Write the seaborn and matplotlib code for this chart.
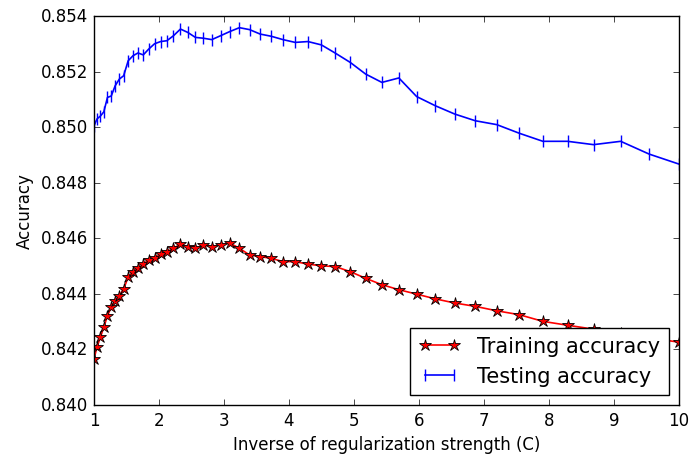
import numpy as np
import pandas as pd
import matplotlib
matplotlib.use("Agg")
import matplotlib.pyplot as plt
from matplotlib.ticker import FormatStrFormatter
import seaborn as sns

plt.style.use("classic")

# Inverse of regularization strength values (log-spaced from 1 to 10)
c_values = [1.000, 1.048, 1.099, 1.151, 1.207, 1.265, 1.326, 1.390, 1.456, 1.526,
            1.600, 1.677, 1.758, 1.842, 1.931, 2.024, 2.121, 2.223, 2.330, 2.442,
            2.560, 2.683, 2.812, 2.947, 3.089, 3.237, 3.393, 3.556, 3.728, 3.907,
            4.095, 4.292, 4.498, 4.715, 4.942, 5.179, 5.429, 5.690, 5.964, 6.251,
            6.551, 6.866, 7.197, 7.543, 7.906, 8.286, 8.685, 9.103, 9.541, 10.000]

train_acc = [0.84166, 0.84210, 0.84244, 0.84280, 0.84321, 0.84352, 0.84375, 0.84393, 0.84418, 0.84460,
             0.84480, 0.84492, 0.84507, 0.84523, 0.84529, 0.84543, 0.84552, 0.84564, 0.84579, 0.84570,
             0.84564, 0.84576, 0.84570, 0.84576, 0.84583, 0.84564, 0.84540, 0.84534, 0.84528, 0.84516,
             0.84516, 0.84507, 0.84501, 0.84498, 0.84480, 0.84456, 0.84433, 0.84415, 0.84399, 0.84382,
             0.84367, 0.84355, 0.84339, 0.84325, 0.84301, 0.84287, 0.84273, 0.84258, 0.84242, 0.84226]

test_acc = [0.85005, 0.85030, 0.85040, 0.85055, 0.85107, 0.85112, 0.85149, 0.85173, 0.85185, 0.85239,
            0.85257, 0.85267, 0.85260, 0.85281, 0.85300, 0.85308, 0.85311, 0.85329, 0.85353, 0.85341,
            0.85323, 0.85320, 0.85315, 0.85329, 0.85344, 0.85358, 0.85351, 0.85335, 0.85327, 0.85315,
            0.85305, 0.85308, 0.85296, 0.85266, 0.85233, 0.85191, 0.85161, 0.85177, 0.85110, 0.85077,
            0.85047, 0.85023, 0.85009, 0.84978, 0.84949, 0.84949, 0.84937, 0.84949, 0.84903, 0.84867]

df = pd.DataFrame({"C": c_values, "train": train_acc, "test": test_acc})

fig = plt.figure(figsize=(6.89, 4.60), dpi=100, facecolor="white")
ax = fig.add_axes([94 / 689, 1 - 406 / 460, (679 - 94) / 689, (406 - 17) / 460])

sns.lineplot(data=df, x="C", y="train", ax=ax, color="red", marker="*",
             markersize=9, markeredgecolor="black", markeredgewidth=0.6,
             linewidth=1.2, label="Training accuracy")
sns.lineplot(data=df, x="C", y="test", ax=ax, color="blue", marker="|",
             markersize=9, markeredgecolor="blue", markeredgewidth=1.0,
             linewidth=1.2, label="Testing accuracy")

ax.set_xlim(1, 10)
ax.set_ylim(0.840, 0.854)
ax.set_xticks(range(1, 11))
ax.set_yticks(np.arange(0.840, 0.8541, 0.002))
ax.yaxis.set_major_formatter(FormatStrFormatter("%.3f"))
ax.set_xlabel("Inverse of regularization strength (C)", fontsize=12)
ax.set_ylabel("Accuracy", fontsize=12)
ax.tick_params(labelsize=12)
ax.grid(False)

ax.legend(loc="lower right", numpoints=2, fontsize=15, fancybox=False)

fig.savefig("out.png", dpi=100, facecolor="white")
